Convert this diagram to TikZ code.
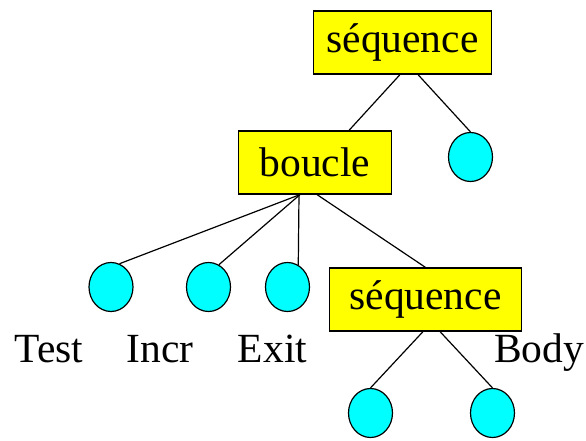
\documentclass[tikz,border=0pt]{standalone}
\usepackage{fontspec}
\setmainfont{Liberation Serif}
\usetikzlibrary{shapes.geometric}
\definecolor{BoxYellow}{HTML}{FFFF00}
\definecolor{LeafCyan}{HTML}{00FFFF}

\begin{document}
\begin{tikzpicture}[x=1pt,y=-1pt,line width=1.2pt,
    box/.style={draw,fill=BoxYellow,inner sep=0pt,minimum height=63pt,
      font=\fontsize{41.5}{41.5}\selectfont},
    leaf/.style={draw,fill=LeafCyan,ellipse,inner sep=0pt,
      minimum width=44pt,minimum height=49pt},
    lbl/.style={anchor=base,inner sep=0pt,font=\fontsize{41.5}{41.5}\selectfont}]
  \useasboundingbox (0,0) rectangle (586,441);

  % boxes
  \node[box,minimum width=178pt] (seqtop) at (402.5,42.5) {séquence};
  \node[box,minimum width=153pt] (boucle) at (315,162.5) {boucle};
  \node[box,minimum width=192pt] (seqbody) at (425.5,299.5) {séquence};

  % leaves
  \node[leaf] (lfnext) at (470.5,157) {};
  \node[leaf] (lftest) at (111,287) {};
  \node[leaf] (lfincr) at (208.5,287) {};
  \node[leaf] (lfexit) at (287.5,287) {};
  \node[leaf] (lfleft) at (370.5,413) {};
  \node[leaf] (lfright) at (492.5,413) {};

  % labels under the loop children
  \node[lbl] (txtest) at (49,362) {Test};
  \node[lbl] (txincr) at (160,362) {Incr};
  \node[lbl] (txexit) at (272.5,362) {Exit};
  \node[lbl] (txbody) at (539,362) {Body};

  % edges
  \draw ([xshift=-2.5pt]seqtop.south) -- ([xshift=34pt]boucle.north);
  \draw ([xshift=15.5pt]seqtop.south) -- (lfnext.north);
  \draw ([xshift=-15pt]boucle.south) -- (lftest.70);
  \draw ([xshift=-15pt]boucle.south) -- (lfincr.65);
  \draw ([xshift=-16pt]boucle.south) -- (lfexit.64);
  \draw ([xshift=2pt]boucle.south) -- (seqbody.north);
  \draw ([xshift=-2.5pt]seqbody.south) -- (lfleft.north);
  \draw ([xshift=14.5pt]seqbody.south) -- (lfright.north);
\end{tikzpicture}
\end{document}
